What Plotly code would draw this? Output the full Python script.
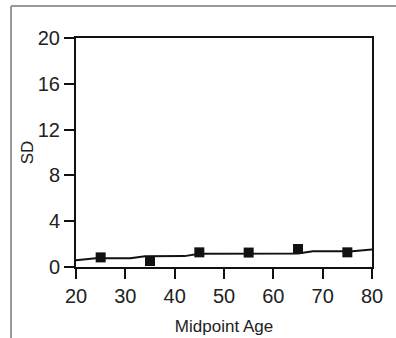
import plotly.graph_objects as go

# Observed SD by age group
age_mid = [25, 35, 45, 55, 65, 75]
sd_vals = [0.84, 0.52, 1.28, 1.26, 1.57, 1.28]

# Fitted trend line
fit_age = [20, 24, 31, 34, 42, 45, 65, 68, 76, 80]
fit_sd = [0.6, 0.76, 0.76, 0.93, 0.95, 1.15, 1.18, 1.37, 1.38, 1.52]

x_ticks = [20, 30, 40, 50, 60, 70, 80]
y_ticks = [0, 4, 8, 12, 16, 20]

W, H = 396, 338
L, R, T, B = 76, 24, 38, 71
pw, ph = W - L - R, H - T - B
FONT = "Arial, Liberation Sans, sans-serif"

fig = go.Figure()
fig.add_trace(go.Scatter(
    x=fit_age, y=fit_sd, mode="lines",
    line=dict(color="#111111", width=2), hoverinfo="skip"))
fig.add_trace(go.Scatter(
    x=age_mid, y=sd_vals, mode="markers",
    marker=dict(symbol="square", size=10, color="#111111"), cliponaxis=False))

axis_common = dict(
    showgrid=False, zeroline=False, showline=True, linecolor="#111111",
    linewidth=2, ticks="outside", ticklen=10, tickwidth=2, tickcolor="#111111",
    tickfont=dict(family=FONT, size=20, color="#222222"),
    mirror=True, automargin=False,
)

fig.update_xaxes(range=[20, 80], tickvals=x_ticks,
                 title=dict(text="Midpoint Age", standoff=14,
                            font=dict(family=FONT, size=17, color="#222222")),
                 **axis_common)
fig.update_yaxes(range=[0, 20], tickvals=y_ticks,
                 title=dict(text="SD", standoff=0,
                            font=dict(family=FONT, size=17, color="#222222")),
                 **axis_common)

# Light gray frame at the top and left of the figure
fx = (11 - L) / pw
fy_top = (H - B - 6) / ph
fy_bot = -B / ph
fig.add_shape(type="line", xref="paper", yref="paper",
              x0=fx, x1=(W - L) / pw + 0.01, y0=fy_top, y1=fy_top,
              line=dict(color="#9a9a9a", width=2))
fig.add_shape(type="line", xref="paper", yref="paper",
              x0=fx, x1=fx, y0=fy_top, y1=fy_bot - 0.01,
              line=dict(color="#9a9a9a", width=2))

fig.update_layout(
    width=W, height=H, showlegend=False,
    margin=dict(l=L, r=R, t=T, b=B),
    paper_bgcolor="white", plot_bgcolor="white",
)

fig.write_html("out.html")
